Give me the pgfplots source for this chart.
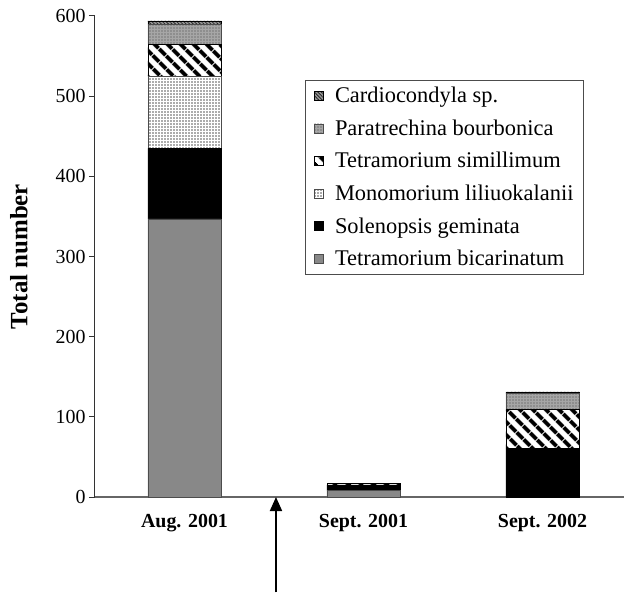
\documentclass[border=0pt]{standalone}
\usepackage{fontspec}
\setmainfont{Liberation Serif}
\usepackage{pgfplots}
\pgfplotsset{compat=1.18}
\usetikzlibrary{patterns,patterns.meta,arrows.meta,calc}
\definecolor{bic}{RGB}{136,136,136}
\begin{document}
\begin{tikzpicture}
\begin{axis}[
  scale only axis, width=529bp, height=481bp,
  ybar stacked, bar width=0.41,
  xmin=-0.5, xmax=2.455, ymin=0, ymax=600,
  axis x line*=bottom, axis y line*=left,
  x axis line style={draw=black!60, line width=1.2bp},
  y axis line style={draw=black!80, line width=1bp},
  xtick={0,1,2}, xticklabels={Aug. 2001, Sept. 2001, Sept. 2002},
  xtick style={draw=none},
  ytick={0,100,200,300,400,500,600},
  ytick style={draw=black!80, line width=1bp},
  tick align=outside, major tick length=6bp,
  /pgf/number format/assume math mode=true,
  yticklabel style={font=\fontsize{20}{24}\selectfont},
  xticklabel style={font=\fontsize{20}{24}\selectfont\bfseries, yshift=-8bp},
  ylabel={Total number},
  ylabel style={font=\fontsize{25}{30}\selectfont\bfseries, at={(axis description cs:-0.1437,0.5)}, anchor=center},
  clip=false,
  reverse legend,
  legend image code/.code={\draw[#1] (1bp,-4.5bp) rectangle (10bp,4.5bp); \path (0bp,0bp); \path (19bp,0bp);},
  legend style={at={(0.397,0.867)}, anchor=north west, draw=black!70, line width=0.8bp,
    font=\fontsize{22.5}{27}\selectfont, cells={anchor=west}, row sep=11.5bp,
    inner xsep=8bp, inner ysep=5bp},
  every axis plot/.append style={draw=black, line width=0.6bp},
]
% Tetramorium bicarinatum
\addplot+[fill=bic, draw=black!70] coordinates {(0,347) (1,8) (2,0)};
% Solenopsis geminata
\addplot+[fill=black, draw=black] coordinates {(0,88) (1,7) (2,61)};
% Monomorium liliuokalanii
\addplot+[fill=white, draw=black!70, postaction={pattern={Dots[radius=0.8bp,distance=3bp]}, pattern color=black!65}] coordinates {(0,90) (1,0) (2,0)};
% Tetramorium simillimum
\addplot+[fill=white, draw=black, postaction={pattern={Lines[angle=-45,distance=10bp,line width=4.5bp]}, pattern color=black}] coordinates {(0,40) (1,2) (2,48)};
% Paratrechina bourbonica
\addplot+[fill=black!35, draw=black!70, postaction={pattern={Dots[radius=0.7bp,distance=3bp]}, pattern color=black!75}] coordinates {(0,25) (1,0) (2,20)};
% Cardiocondyla sp.
\addplot+[fill=black!40, draw=black, postaction={pattern={Lines[angle=-45,distance=2.5bp,line width=0.8bp]}, pattern color=black!85}] coordinates {(0,4) (1,0) (2,2)};
\legend{Tetramorium bicarinatum, Solenopsis geminata, Monomorium liliuokalanii, Tetramorium simillimum, Paratrechina bourbonica, Cardiocondyla sp.}
\draw[line width=1.8bp, -{Triangle[width=12bp,length=14bp]}] (axis cs:0.511,-119) -- (axis cs:0.511,0);
\end{axis}
\pgfresetboundingbox
\path ($(current axis.south west)+(-95bp,-101bp)$) rectangle ($(current axis.north east)+(2bp,16bp)$);
\end{tikzpicture}
\end{document}
